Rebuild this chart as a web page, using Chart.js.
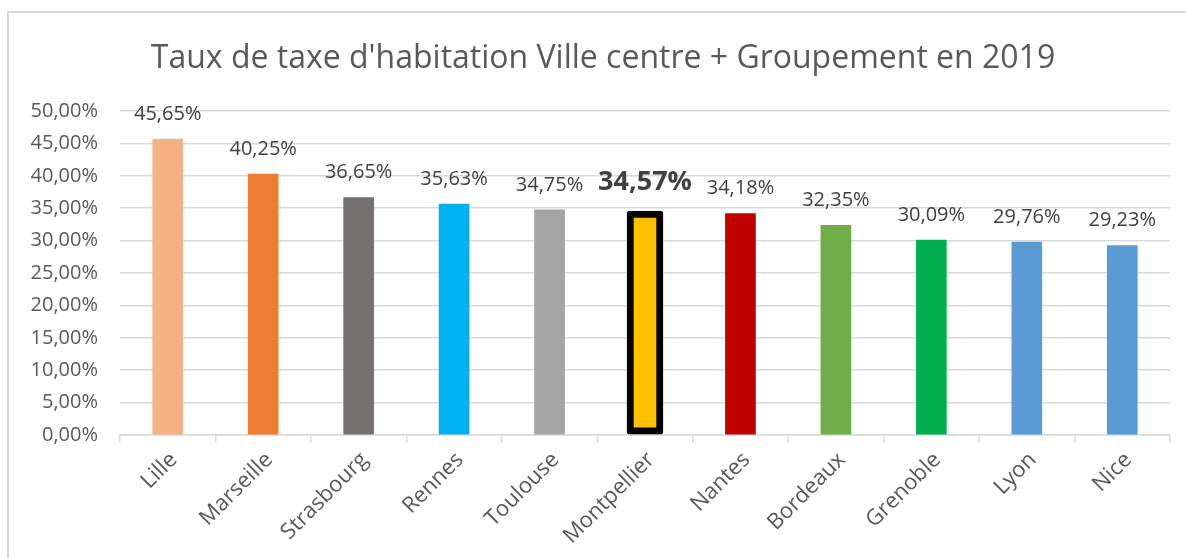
<!DOCTYPE html>
<html>
<head>
<meta charset="utf-8">
<script src="https://cdn.jsdelivr.net/npm/chart.js@4/dist/chart.umd.min.js"></script>
<style>
  html, body { margin: 0; padding: 0; background: #fff; }
  #wrap { width: 1186px; height: 558px; position: relative; }
</style>
</head>
<body>
<div id="wrap"><canvas id="chart"></canvas></div>
<script>
// --- data ---
const cities = ['Lille', 'Marseille', 'Strasbourg', 'Rennes', 'Toulouse', 'Montpellier', 'Nantes', 'Bordeaux', 'Grenoble', 'Lyon', 'Nice'];
const rates = [45.65, 40.25, 36.65, 35.63, 34.75, 34.57, 34.18, 32.35, 30.09, 29.76, 29.23];
const barColors = ['#F4B183', '#ED7D31', '#767171', '#00B0F0', '#A5A5A5', '#FFC000', '#C00000', '#70AD47', '#00B050', '#5B9BD5', '#5B9BD5'];
const highlightCity = 'Montpellier';
const yTicks = [0, 5, 10, 15, 20, 25, 30, 35, 40, 45, 50];
const chartTitle = "Taux de taxe d'habitation Ville centre + Groupement en 2019";

const fontFamily = "'Open Sans', 'Noto Sans', sans-serif";
const textColor = '#595959';
const gridColor = '#d9d9d9';

const fmtPct = (v) => v.toFixed(2).replace('.', ',') + '%';

const hiIdx = cities.indexOf(highlightCity);
const normalData = rates.map((v, i) => (i === hiIdx ? null : v));
const highlightData = rates.map((v, i) => (i === hiIdx ? v : null));

// outer frame like the spreadsheet chart box + title (centered on the whole frame)
const framePlugin = {
  id: 'frame',
  beforeDraw(chart) {
    const ctx = chart.ctx;
    ctx.save();
    ctx.fillStyle = '#fff';
    ctx.fillRect(0, 0, chart.width, chart.height);
    ctx.strokeStyle = gridColor;
    ctx.lineWidth = 2;
    ctx.strokeRect(8, 12, chart.width + 40, chart.height + 40);
    ctx.fillStyle = textColor;
    ctx.font = "32px " + fontFamily;
    ctx.textAlign = 'center';
    ctx.textBaseline = 'middle';
    ctx.fillText(chartTitle, 603, 59);
    ctx.restore();
  }
};

// value labels above bars
const valueLabels = {
  id: 'valueLabels',
  afterDatasetsDraw(chart) {
    const ctx = chart.ctx;
    ctx.save();
    ctx.textAlign = 'center';
    ctx.textBaseline = 'middle';
    ctx.fillStyle = '#404040';
    chart.data.datasets.forEach((ds, di) => {
      const meta = chart.getDatasetMeta(di);
      meta.data.forEach((bar, i) => {
        const v = ds.data[i];
        if (v == null) return;
        if (di === 1) {
          ctx.font = "bold 27px " + fontFamily;
          ctx.fillText(fmtPct(v), bar.x, bar.y - 29);
        } else {
          ctx.font = "20px " + fontFamily;
          ctx.fillText(fmtPct(v), bar.x, bar.y - 25);
        }
      });
    });
    ctx.restore();
  }
};

new Chart(document.getElementById('chart'), {
  type: 'bar',
  data: {
    labels: cities,
    datasets: [
      {
        data: normalData,
        backgroundColor: barColors,
        barThickness: 30,
        grouped: false,
        borderWidth: 0
      },
      {
        data: highlightData,
        backgroundColor: '#FFC000',
        borderColor: '#000000',
        borderWidth: 7,
        borderSkipped: false,
        borderRadius: 3,
        barThickness: 36,
        grouped: false
      }
    ]
  },
  options: {
    responsive: true,
    maintainAspectRatio: false,
    animation: false,
    layout: { padding: { left: 8, right: 16, top: 111, bottom: 0 } },
    plugins: {
      legend: { display: false },
      tooltip: { enabled: false },
      title: { display: false }
    },
    scales: {
      x: {
        offset: true,
        grid: {
          offset: true,
          drawOnChartArea: false,
          color: gridColor,
          tickLength: 8,
          lineWidth: 1.5
        },
        border: { color: gridColor, width: 1.5 },
        ticks: {
          color: textColor,
          font: { family: fontFamily, size: 22 },
          minRotation: 45,
          maxRotation: 45,
          padding: 4,
          labelOffset: 6,
          autoSkip: false
        },
        afterFit: (scale) => { scale.height = 123; }
      },
      y: {
        min: 0,
        max: 50,
        afterBuildTicks: (scale) => { scale.ticks = yTicks.map(v => ({ value: v })); },
        grid: { color: gridColor, lineWidth: 1.5, drawTicks: false },
        border: { display: false },
        ticks: {
          color: textColor,
          font: { family: fontFamily, size: 20 },
          padding: 22,
          callback: (v) => fmtPct(v)
        },
        afterFit: (scale) => { scale.width = 112; }
      }
    }
  },
  plugins: [framePlugin, valueLabels]
});
</script>
</body>
</html>
